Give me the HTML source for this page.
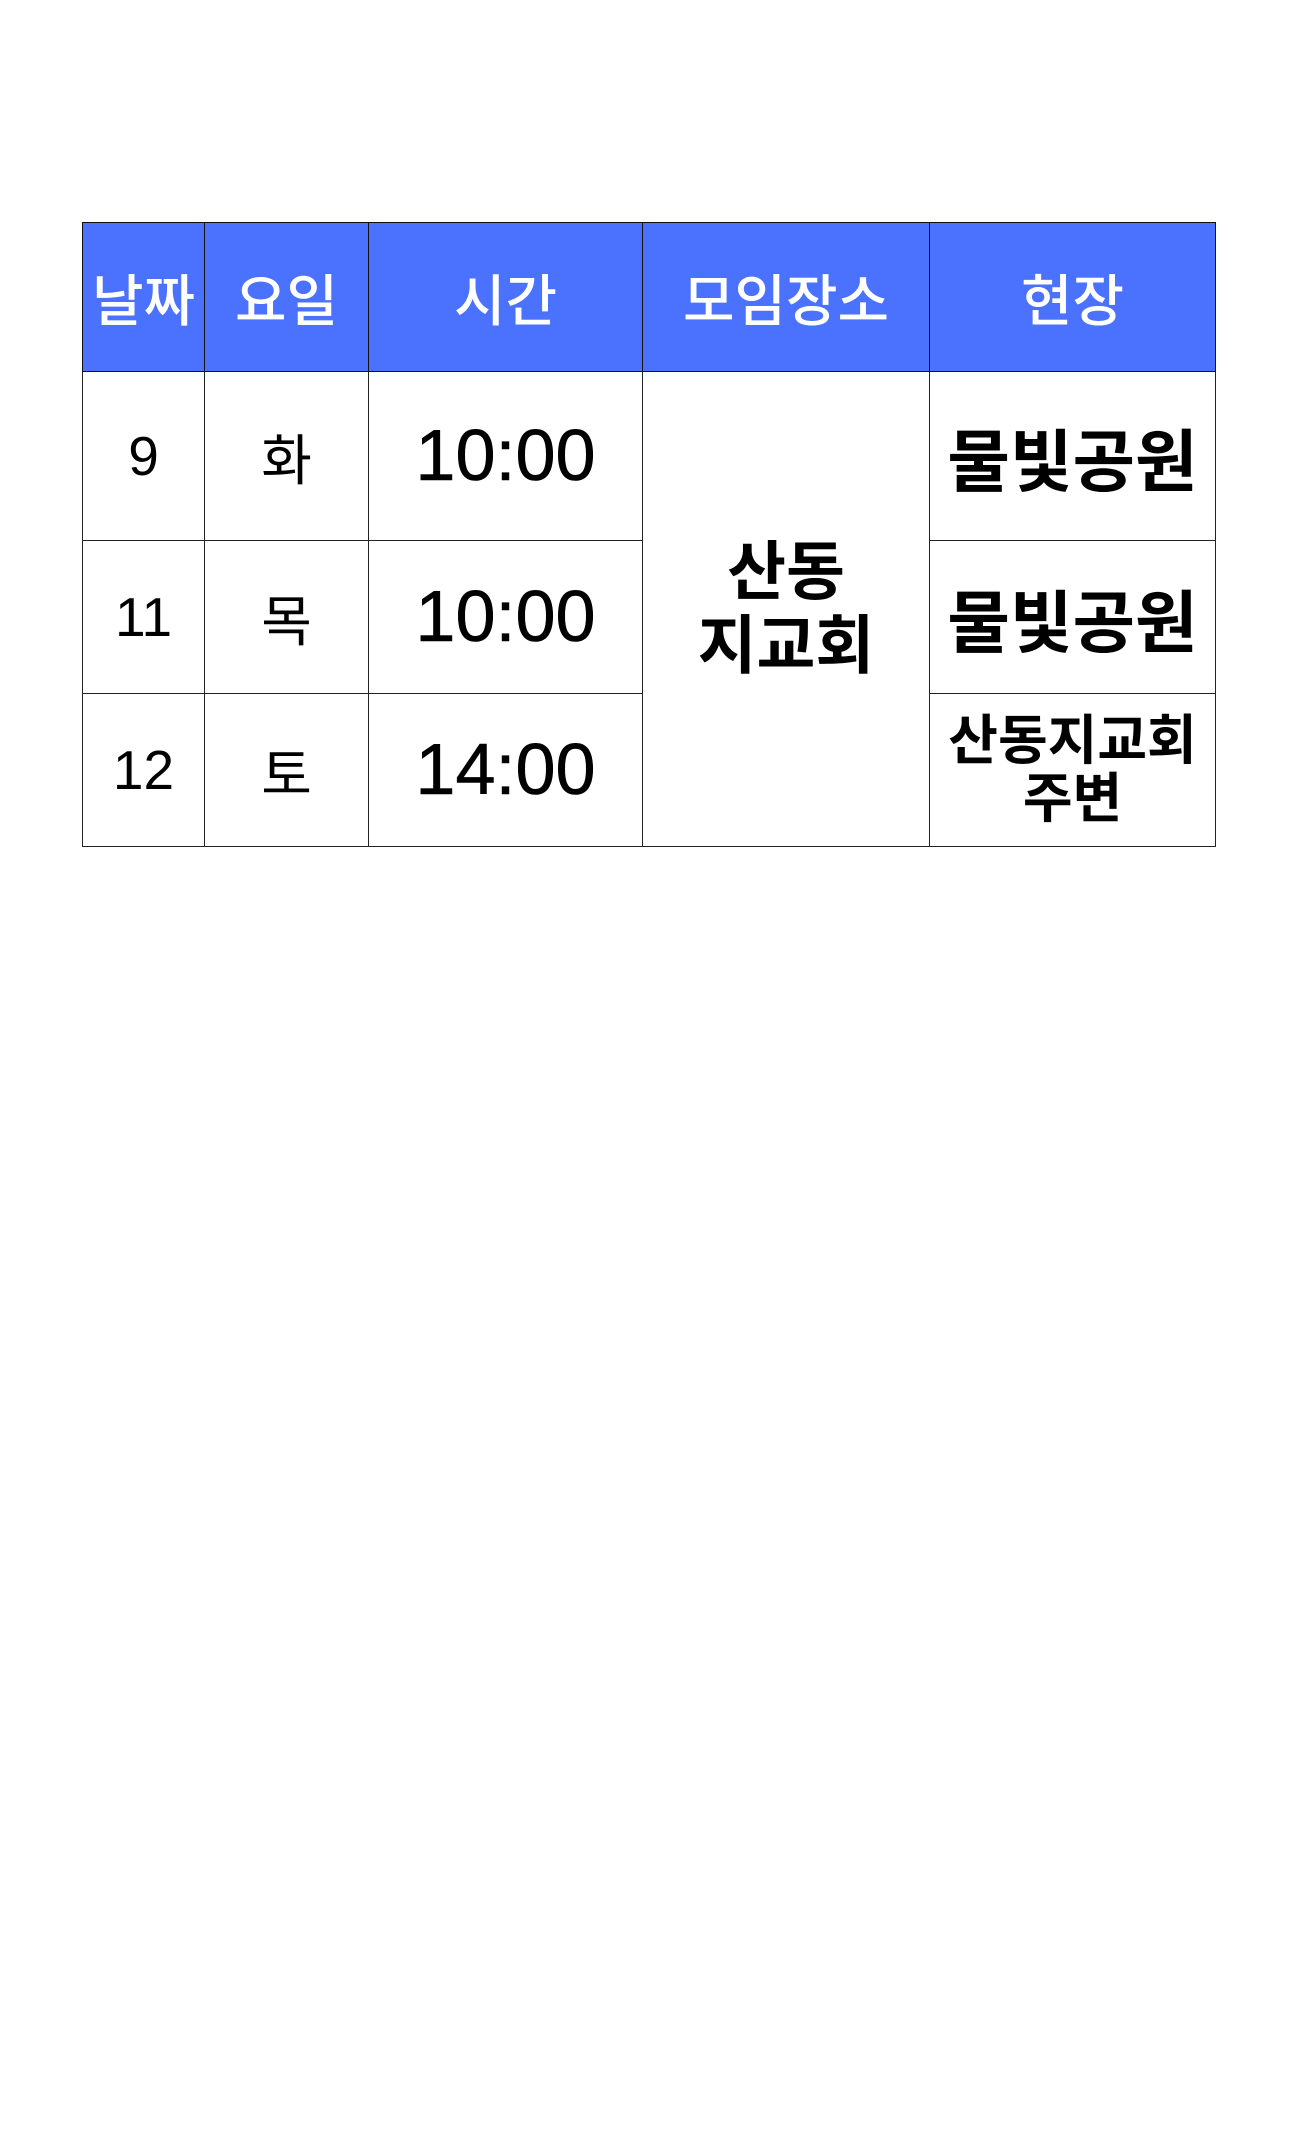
<!DOCTYPE html>
<html><head><meta charset="utf-8"><style>
body{margin:0;width:1300px;height:2150px;background:#fff;position:relative;font-family:"Liberation Sans","Noto Sans CJK KR",sans-serif;}
table{position:absolute;left:82px;top:222px;border-collapse:collapse;table-layout:fixed;}
td,th{border:1.5px solid #222;text-align:center;vertical-align:middle;padding:0;color:#000;}
th{background:#4a72ff;color:#fff;font-size:56px;font-weight:500;height:148px;border-color:#111;}
td.d{font-size:55px;}
td.t{font-size:72px;-webkit-text-stroke:0.6px #000;}
td.p{font-size:64px;font-weight:bold;line-height:74px;}
td.s{font-size:68px;font-weight:bold;}
td.s2{font-size:54px;font-weight:bold;line-height:58px;}
</style></head><body>
<table>
<colgroup><col style="width:122px"><col style="width:164px"><col style="width:274px"><col style="width:287px"><col style="width:286px"></colgroup>
<tr>
<th>날짜</th>
<th>요일</th>
<th>시간</th>
<th>모임장소</th>
<th>현장</th>
</tr>
<tr style="height:169px">
<td class="d">9</td>
<td class="d">화</td>
<td class="t">10:00</td>
<td class="p" rowspan="3">산동<br>지교회</td>
<td class="s">물빛공원</td>
</tr>
<tr style="height:153px">
<td class="d">11</td>
<td class="d">목</td>
<td class="t">10:00</td>
<td class="s">물빛공원</td>
</tr>
<tr style="height:153px">
<td class="d">12</td>
<td class="d">토</td>
<td class="t">14:00</td>
<td class="s2">산동지교회<br>주변</td>
</tr>
</table>
</body></html>
